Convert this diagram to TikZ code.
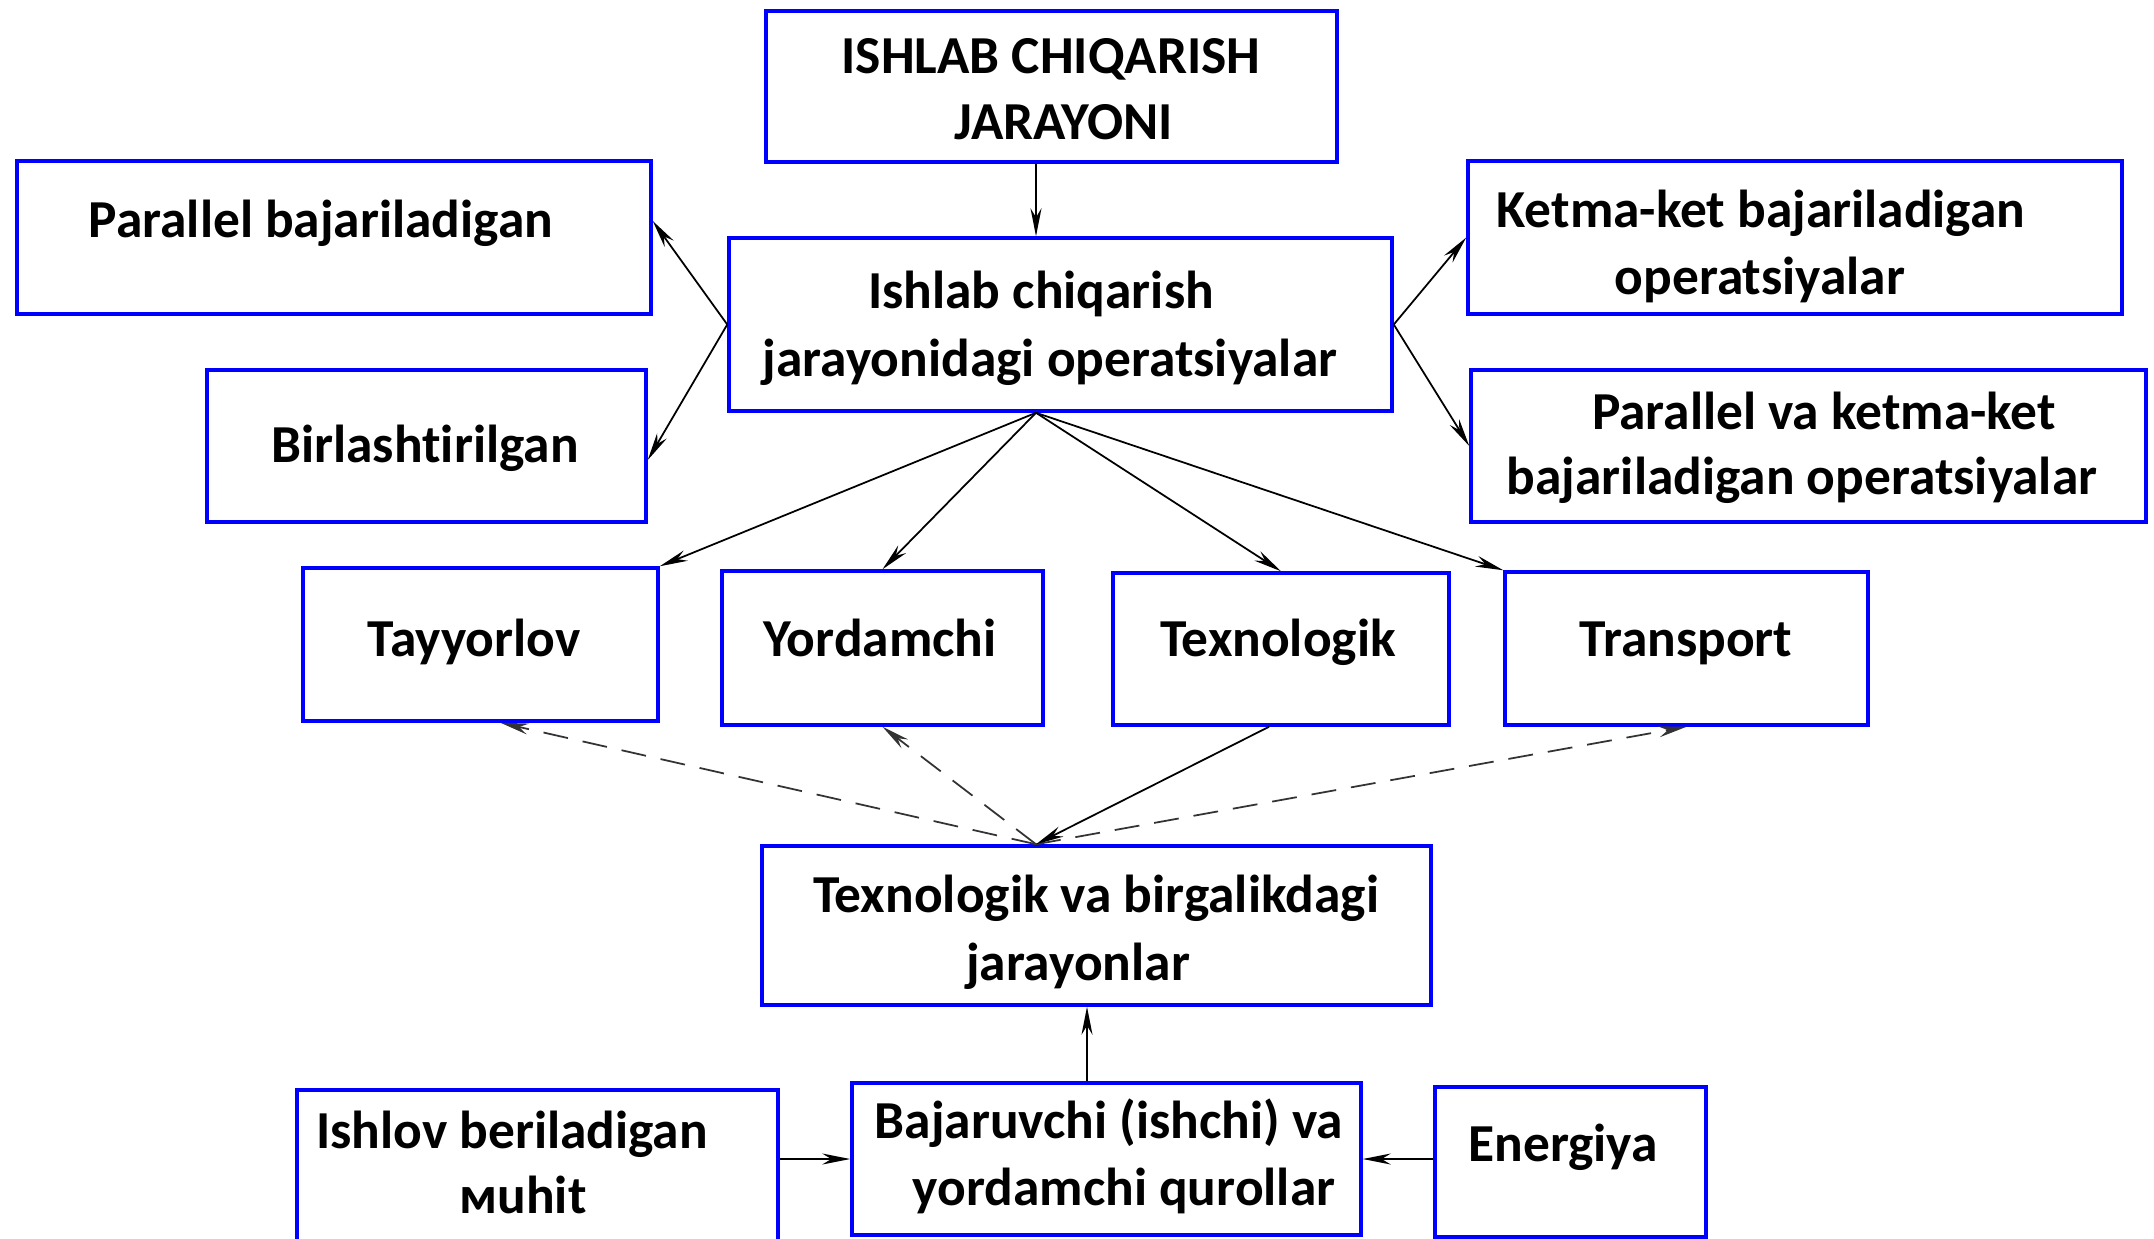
\documentclass[tikz,border=0pt]{standalone}
\usepackage{fontspec}
\setmainfont{Carlito}[Ligatures=NoCommon]
\usetikzlibrary{arrows.meta}

\tikzset{
	box/.style={draw=blue, line width=1pt, inner sep=0pt},
	txt/.style={anchor=base, inner sep=0pt, font=\bfseries\fontsize{15.2}{18.9}\selectfont},
	arr/.style={-{Stealth[length=2.8mm,width=1.1mm]}, line width=0.5pt},
	dsh/.style={arr, dash pattern=on 2.5mm off 1.5mm, draw=black!80}
}

\begin{document}
\begin{tikzpicture}
	\useasboundingbox (0,0) rectangle (21.54,-12.38);
	% boxes
	\node[box, minimum width=5.71cm, minimum height=1.51cm] (top) at (10.515,-0.865) {};
	\node[box, minimum width=6.63cm, minimum height=1.73cm] (ops) at (10.605,-3.245) {};
	\node[box, minimum width=6.34cm, minimum height=1.53cm] (parb) at (3.34,-2.375) {};
	\node[box, minimum width=4.39cm, minimum height=1.52cm] (birl) at (4.265,-4.46) {};
	\node[box, minimum width=6.54cm, minimum height=1.53cm] (ketm) at (17.95,-2.375) {};
	\node[box, minimum width=6.75cm, minimum height=1.52cm] (pvk) at (18.085,-4.46) {};
	\node[box, minimum width=3.55cm, minimum height=1.53cm] (tay) at (4.805,-6.445) {};
	\node[box, minimum width=3.21cm, minimum height=1.54cm] (yor) at (8.825,-6.48) {};
	\node[box, minimum width=3.36cm, minimum height=1.52cm] (tex) at (12.81,-6.49) {};
	\node[box, minimum width=3.63cm, minimum height=1.53cm] (tra) at (16.865,-6.485) {};
	\node[box, minimum width=6.69cm, minimum height=1.59cm] (tvb) at (10.965,-9.255) {};
	\node[box, minimum width=4.81cm, minimum height=1.60cm] (ish) at (5.375,-11.70) {};
	\node[box, minimum width=5.09cm, minimum height=1.52cm] (baj) at (11.065,-11.59) {};
	\node[box, minimum width=2.71cm, minimum height=1.50cm] (ene) at (15.705,-11.62) {};
	% texts
	\node[txt] (top1) at (10.51,-0.73) {ISHLAB CHIQARISH};
	\node[txt] (top2) at (10.64,-1.39) {JARAYONI};
	\node[txt] (ops1) at (10.41,-3.08) {Ishlab chiqarish};
	\node[txt] (ops2) at (10.50,-3.76) {jarayonidagi operatsiyalar};
	\node[txt] (parb1) at (3.21,-2.37) {Parallel bajariladigan};
	\node[txt] (birl1) at (4.25,-4.62) {Birlashtirilgan};
	\node[txt] (ketm1) at (17.61,-2.27) {Ketma-ket bajariladigan};
	\node[txt] (ketm2) at (17.60,-2.94) {operatsiyalar};
	\node[txt] (pvk1) at (18.24,-4.29) {Parallel va ketma-ket};
	\node[txt] (pvk2) at (18.02,-4.94) {bajariladigan operatsiyalar};
	\node[txt] (tay1) at (4.74,-6.56) {Tayyorlov};
	\node[txt] (yor1) at (8.80,-6.56) {Yordamchi};
	\node[txt] (tex1) at (12.78,-6.56) {Texnologik};
	\node[txt] (tra1) at (16.86,-6.56) {Transport};
	\node[txt] (tvb1) at (10.96,-9.125) {Texnologik va birgalikdagi};
	\node[txt] (tvb2) at (10.78,-9.80) {jarayonlar};
	\node[txt] (ish1) at (5.12,-11.48) {Ishlov beriladigan};
	\node[txt] (ish2) at (5.23,-12.13) {мuhit};
	\node[txt] (baj1) at (11.09,-11.38) {Bajaruvchi (ishchi) va};
	\node[txt] (baj2) at (11.24,-12.05) {yordamchi qurollar};
	\node[txt] (ene1) at (15.63,-11.61) {Energiya};
	% connectors
	\coordinate (axis) at (10.36,0);
	\coordinate (axisb) at (10.87,0);
	\draw[arr] (top.south -| axis) -- (ops.north -| axis);
	\draw[arr] (ops.west) -- ([yshift=0.165cm]parb.east);
	\draw[arr] (ops.west) -- ([yshift=-0.14cm]birl.east);
	\draw[arr] (ops.east) -- (ketm.west);
	\draw[arr] (ops.east) -- (pvk.west);
	\draw[arr] (ops.south -| axis) -- (tay.north east);
	\draw[arr] (ops.south -| axis) -- (yor.north);
	\draw[arr] (ops.south -| axis) -- (tex.north);
	\draw[arr] (ops.south -| axis) -- (tra.north west);
	\draw[dsh] (tvb.north -| axis) -- ([xshift=0.2cm]tay.south);
	\draw[dsh] (tvb.north -| axis) -- (yor.south);
	\draw[dsh] (tvb.north -| axis) -- (tra.south);
	\draw[arr] ([xshift=-0.12cm]tex.south) -- (tvb.north -| axis);
	\draw[arr] (baj.north -| axisb) -- (tvb.south -| axisb);
	\draw[arr] (ish.east |- baj.west) -- (baj.west);
	\draw[arr] (ene.west |- baj.east) -- (baj.east);
\end{tikzpicture}
\end{document}
